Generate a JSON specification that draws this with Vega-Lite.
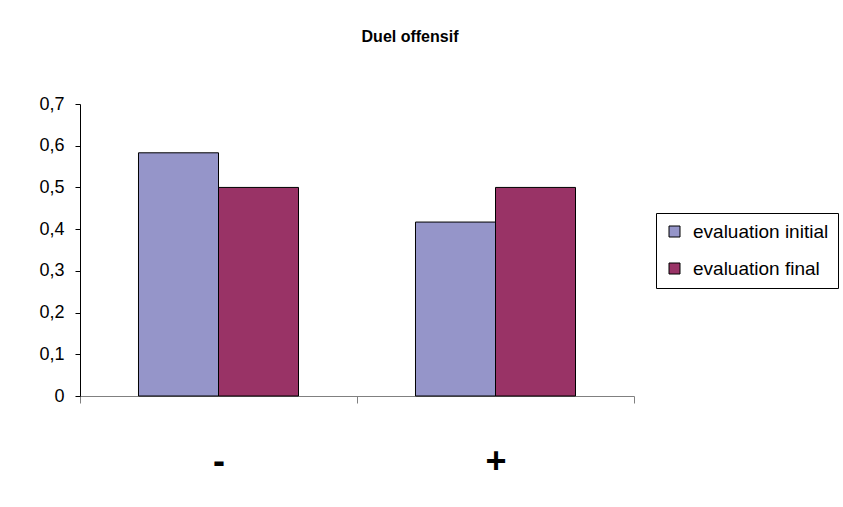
{
  "$schema": "https://vega.github.io/schema/vega-lite/v6.json",
  "width": 554,
  "height": 292,
  "autosize": {"type": "none"},
  "padding": {"left": 80, "top": 104, "right": 209, "bottom": 111},
  "background": "white",
  "config": {
    "locale": {"number": {"decimal": ",", "thousands": ".", "grouping": [3], "currency": ["", " €"]}},
    "font": "Liberation Sans",
    "view": {"stroke": null}
  },
  "title": {
    "text": "Duel offensif",
    "font": "Liberation Sans",
    "fontSize": 16,
    "fontWeight": "bold",
    "color": "black",
    "anchor": "middle",
    "dx": 53,
    "offset": 50
  },
  "data": {
    "values": [
      {"categorie": "-", "serie": "evaluation initial", "valeur": 0.583},
      {"categorie": "-", "serie": "evaluation final", "valeur": 0.5},
      {"categorie": "+", "serie": "evaluation initial", "valeur": 0.417},
      {"categorie": "+", "serie": "evaluation final", "valeur": 0.5}
    ]
  },
  "mark": {"type": "bar", "stroke": "black", "strokeWidth": 1},
  "encoding": {
    "x": {
      "field": "categorie",
      "type": "nominal",
      "sort": ["-", "+"],
      "scale": {"paddingInner": 0, "paddingOuter": 0},
      "axis": {
        "title": null,
        "labelAngle": 0,
        "labelFontSize": 36,
        "labelFontWeight": "bold",
        "labelColor": "black",
        "labelPadding": 41,
        "tickBand": "extent",
        "tickSize": 7,
        "tickColor": "#808080",
        "domainColor": "#808080",
        "grid": false
      }
    },
    "xOffset": {
      "field": "serie",
      "type": "nominal",
      "sort": ["evaluation initial", "evaluation final"],
      "scale": {"paddingInner": 0, "paddingOuter": 0.731}
    },
    "y": {
      "field": "valeur",
      "type": "quantitative",
      "scale": {"domain": [0, 0.7], "nice": false},
      "axis": {
        "title": null,
        "values": [0, 0.1, 0.2, 0.3, 0.4, 0.5, 0.6, 0.7],
        "format": ".1~f",
        "grid": false,
        "labelFontSize": 18,
        "labelColor": "black",
        "labelPadding": 11,
        "tickSize": 5,
        "tickColor": "#000000",
        "domainColor": "#000000"
      }
    },
    "color": {
      "field": "serie",
      "type": "nominal",
      "sort": ["evaluation initial", "evaluation final"],
      "scale": {"domain": ["evaluation initial", "evaluation final"], "range": ["#9595C9", "#993366"]},
      "legend": {
        "title": null,
        "orient": "none",
        "legendX": 576,
        "legendY": 109,
        "symbolType": "square",
        "symbolSize": 121,
        "symbolStrokeColor": "black",
        "symbolStrokeWidth": 1,
        "symbolOpacity": 1,
        "labelFontSize": 19,
        "labelColor": "black",
        "labelOffset": 9,
        "rowPadding": 17,
        "padding": 9,
        "strokeColor": "black",
        "fillColor": "white",
        "cornerRadius": 0
      }
    }
  }
}
